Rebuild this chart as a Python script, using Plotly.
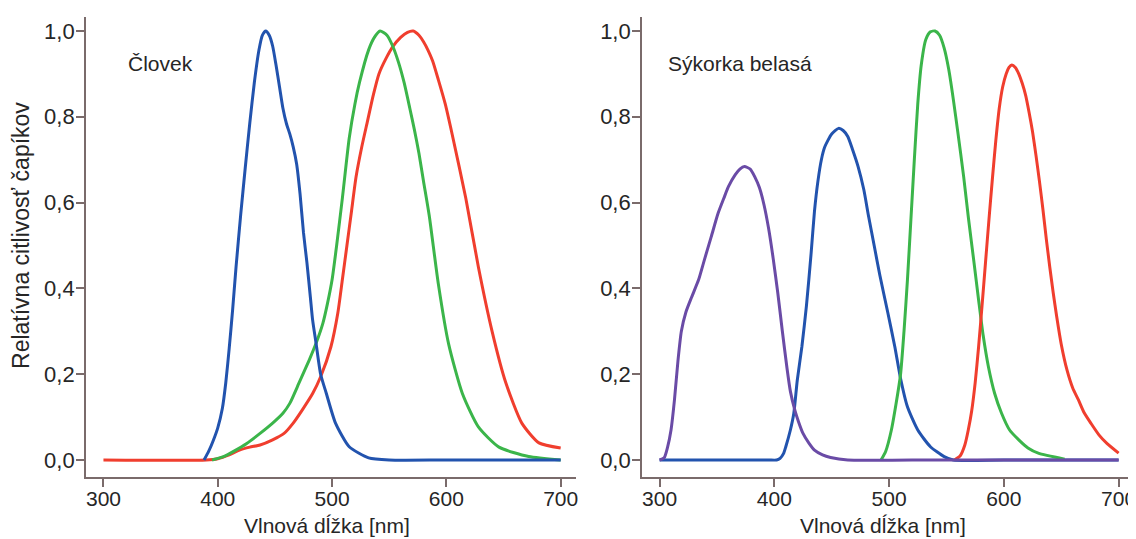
import plotly.graph_objects as go

# ---------------- data ----------------
# Human (Človek)
human_s_nm = [388, 392, 396, 400, 404, 407, 410, 413, 416, 420, 424, 428, 432, 436, 439, 442, 445, 448, 451,
              454, 457, 460, 463, 466, 469, 472, 475, 478, 481, 483, 486, 490, 495, 503, 515, 532, 550, 600,
              700]
human_s_val = [0.0, 0.02, 0.045, 0.075, 0.12, 0.18, 0.26, 0.35, 0.45, 0.57, 0.68, 0.785, 0.88, 0.955, 0.99,
               1.0, 0.99, 0.965, 0.92, 0.87, 0.82, 0.785, 0.76, 0.73, 0.69, 0.62, 0.53, 0.46, 0.38, 0.326,
               0.272, 0.2, 0.155, 0.086, 0.031, 0.005, 0.0, 0.0, 0.0]

human_m_nm = [395, 405, 415, 425, 437, 448, 457, 463, 471, 480, 486, 492, 496, 500, 504, 509, 515, 520, 524,
              532, 537, 542, 548, 553, 558, 563, 568, 572, 576, 580, 585, 593, 602, 614, 628, 646, 672, 700]
human_m_val = [0.0, 0.008, 0.022, 0.038, 0.062, 0.086, 0.109, 0.132, 0.179, 0.233, 0.272, 0.319, 0.365, 0.42,
               0.5, 0.61, 0.75, 0.83, 0.88, 0.956, 0.985, 1.0, 0.99, 0.965, 0.928, 0.88, 0.82, 0.77, 0.715,
               0.65, 0.57, 0.41, 0.27, 0.155, 0.077, 0.03, 0.008, 0.0]

human_l_nm = [300, 390, 400, 410, 419, 428, 437, 448, 458, 466, 474, 483, 490, 499, 505, 509, 513, 517, 521,
              526, 531, 536, 541, 547, 553, 560, 566, 571, 576, 580, 584, 588, 593, 599, 605, 617, 628, 640,
              652, 666, 681, 700]
human_l_val = [0.0, 0.0, 0.003, 0.012, 0.023, 0.03, 0.035, 0.047, 0.062, 0.086, 0.117, 0.155, 0.194, 0.264,
               0.342, 0.42, 0.5, 0.58, 0.66, 0.73, 0.79, 0.85, 0.9, 0.935, 0.963, 0.985, 0.997, 1.0, 0.99,
               0.975, 0.955, 0.93, 0.886, 0.83, 0.76, 0.61, 0.45, 0.30, 0.18, 0.086, 0.04, 0.028]

# Blue tit (Sýkorka belasá)
tit_uv_nm = [300, 304, 307, 310, 313, 316, 319, 323, 328, 334, 339, 345, 351, 356, 360, 366, 370, 374, 379,
             383, 387, 391, 395, 399, 403, 407, 411, 414, 418, 421, 425, 430, 435, 442, 449, 464, 520, 700]
tit_uv_val = [0.0, 0.005, 0.03, 0.07, 0.14, 0.23, 0.30, 0.345, 0.38, 0.42, 0.466, 0.52, 0.575, 0.61, 0.637,
              0.665, 0.678, 0.684, 0.678, 0.66, 0.635, 0.595, 0.54, 0.47, 0.39, 0.3, 0.215, 0.16, 0.115,
              0.09, 0.062, 0.04, 0.023, 0.012, 0.006, 0.0, 0.0, 0.0]

tit_s_nm = [300, 350, 395, 402, 405, 408, 410, 414, 417, 420, 424, 428, 432, 435, 438, 441, 444, 450, 456,
            460, 464, 468, 473, 478, 482, 487, 492, 499, 505, 510, 516, 525, 536, 548, 556, 600, 700]
tit_s_val = [0.0, 0.0, 0.0, 0.0, 0.004, 0.015, 0.031, 0.07, 0.109, 0.186, 0.264, 0.36, 0.48, 0.58, 0.65,
             0.70, 0.73, 0.76, 0.773, 0.768, 0.754, 0.725, 0.684, 0.63, 0.57, 0.5, 0.43, 0.342, 0.264, 0.19,
             0.124, 0.07, 0.031, 0.008, 0.0, 0.0, 0.0]

tit_m_nm = [493, 497, 502, 506, 510, 513, 516, 519, 522, 525, 528, 532, 536, 540, 544, 548, 552, 556, 560,
            565, 569, 574, 578, 582, 586.5, 592, 598, 605, 613, 621, 630, 653]
tit_m_val = [0.0, 0.02, 0.07, 0.13, 0.2, 0.3, 0.42, 0.56, 0.7, 0.83, 0.92, 0.98, 0.998, 1.0, 0.99, 0.96,
             0.91, 0.84, 0.762, 0.66, 0.567, 0.46, 0.373, 0.29, 0.218, 0.155, 0.109, 0.07, 0.047, 0.028,
             0.016, 0.002]

tit_l_nm = [557, 562, 566, 569, 572, 575, 578, 581, 584, 587, 590, 593, 596, 599, 602, 604.5, 607, 610, 613,
            616, 619, 622, 625, 628, 631, 634, 637, 640, 643, 646, 650, 655, 660, 665, 670, 676, 683, 690, 700]
tit_l_val = [0.0, 0.01, 0.035, 0.07, 0.115, 0.18, 0.264, 0.36, 0.46, 0.56, 0.655, 0.745, 0.82, 0.87, 0.9,
             0.915, 0.921, 0.915, 0.9, 0.878, 0.85, 0.81, 0.765, 0.71, 0.65, 0.585, 0.515, 0.45, 0.39, 0.335,
             0.27, 0.21, 0.168, 0.14, 0.11, 0.085, 0.058, 0.038, 0.016]

x_ticks = [300, 400, 500, 600, 700]
x_tick_text = ["300", "400", "500", "600", "700"]
y_ticks = [0.0, 0.2, 0.4, 0.6, 0.8, 1.0]
y_tick_text = ["0,0", "0,2", "0,4", "0,6", "0,8", "1,0"]

panel_labels = ["Človek", "Sýkorka belasá"]
x_title = "Vlnová dĺžka [nm]"
y_title = "Relatívna citlivosť čapíkov"

# ---------------- style ----------------
BLUE = "#2253ae"
GREEN = "#3bb54a"
RED = "#f03e2e"
PURPLE = "#6a4ba6"
AXIS = "#7a6b6b"
TEXT = "#262626"
FONT = "Liberation Sans, Arial, sans-serif"

# page body has an 8px margin: the figure is drawn 8px smaller and positions are shifted by 8px
OFF = 8
W, H = 1136 - OFF, 539 - OFF

def px(xp):
    return (xp - OFF) / W

def py(yp):
    return 1 - (yp - OFF) / H

fig = go.Figure()

def add(x, y, color, xa, ya):
    fig.add_trace(go.Scatter(x=x, y=y, mode="lines", xaxis=xa, yaxis=ya,
                             line=dict(color=color, width=3, shape="spline", smoothing=0.6),
                             hoverinfo="skip", showlegend=False))

add(human_l_nm, human_l_val, RED, "x", "y")
add(human_m_nm, human_m_val, GREEN, "x", "y")
add(human_s_nm, human_s_val, BLUE, "x", "y")

add(tit_s_nm, tit_s_val, BLUE, "x2", "y2")
add(tit_m_nm, tit_m_val, GREEN, "x2", "y2")
add(tit_l_nm, tit_l_val, RED, "x2", "y2")
add(tit_uv_nm, tit_uv_val, PURPLE, "x2", "y2")

ydom = [py(477), py(17)]

common_x = dict(range=[284.6, 713.4], tickvals=x_ticks, ticktext=x_tick_text, showgrid=False,
                zeroline=False, showline=True, linecolor=AXIS, linewidth=1.5, ticks="outside",
                ticklen=8, tickcolor=AXIS, tickwidth=1.5, ticklabelstandoff=-6,
                ticklabeloverflow="allow",
                tickfont=dict(family=FONT, size=21, color=TEXT))
common_y = dict(range=[-0.0396, 1.0326], tickvals=y_ticks, ticktext=y_tick_text, showgrid=False,
                zeroline=False, showline=True, linecolor=AXIS, linewidth=1.5, ticks="outside",
                ticklen=8, tickcolor=AXIS, tickwidth=1.5, domain=ydom, ticklabelstandoff=-3,
                tickfont=dict(family=FONT, size=22, color=TEXT))

fig.update_layout(
    width=W, height=H,
    margin=dict(l=0, r=0, t=0, b=0),
    paper_bgcolor="white", plot_bgcolor="white",
    xaxis=dict(domain=[px(86), px(577)], anchor="y", **common_x),
    yaxis=dict(anchor="x", **common_y),
    xaxis2=dict(domain=[px(643), 1.0], anchor="y2", **common_x),
    yaxis2=dict(anchor="x2", **common_y),
)

ann_font = dict(family=FONT, size=21, color=TEXT)
fig.add_annotation(text=panel_labels[0], x=px(126), y=py(64), xref="paper", yref="paper",
                   xanchor="left", yanchor="middle", showarrow=False, font=ann_font)
fig.add_annotation(text=panel_labels[1], x=px(667), y=py(64), xref="paper", yref="paper",
                   xanchor="left", yanchor="middle", showarrow=False, font=ann_font)
fig.add_annotation(text=x_title, x=px(328), y=py(525), xref="paper", yref="paper",
                   xanchor="center", yanchor="middle", showarrow=False, font=ann_font)
fig.add_annotation(text=x_title, x=px(885), y=py(525), xref="paper", yref="paper",
                   xanchor="center", yanchor="middle", showarrow=False, font=ann_font)
fig.add_annotation(text=y_title, x=px(21), y=py(235), xref="paper", yref="paper",
                   xanchor="center", yanchor="middle", textangle=-90, showarrow=False,
                   font=dict(family=FONT, size=23, color=TEXT))

fig.write_html("out.html")
